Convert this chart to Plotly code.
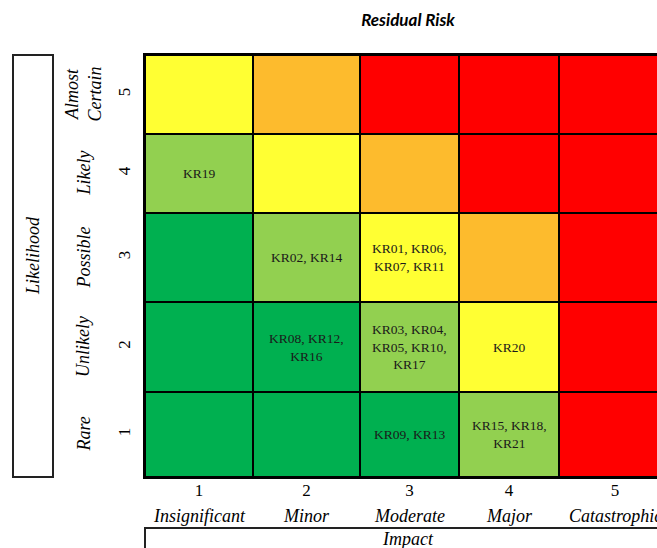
import plotly.graph_objects as go

# ---- data -------------------------------------------------------------
impact_levels = ["1", "2", "3", "4", "5"]
impact_names = ["Insignificant", "Minor", "Moderate", "Major", "Catastrophic"]
likelihood_levels = ["1", "2", "3", "4", "5"]
likelihood_names = ["Rare", "Unlikely", "Possible", "Likely", "Almost<br>Certain"]

# risk band per cell, rows from Rare (1) up to Almost Certain (5)
# 0 = low, 1 = low-medium, 2 = medium, 3 = high, 4 = extreme
risk_band = [
    [0, 0, 0, 1, 4],
    [0, 0, 1, 2, 4],
    [0, 1, 2, 3, 4],
    [1, 2, 3, 4, 4],
    [2, 3, 4, 4, 4],
]

# key risks placed in the matrix: (likelihood index, impact index, label)
key_risks = [
    (3, 0, "KR19"),
    (2, 1, "KR02, KR14"),
    (2, 2, "KR01, KR06,<br>KR07, KR11"),
    (1, 1, "KR08, KR12,<br>KR16"),
    (1, 2, "KR03, KR04,<br>KR05, KR10,<br>KR17"),
    (1, 3, "KR20"),
    (0, 2, "KR09, KR13"),
    (0, 3, "KR15, KR18,<br>KR21"),
]

# ---- layout constants ---------------------------------------------------
band_colors = ["#00B050", "#92D050", "#FFFF33", "#FDBB2D", "#FF0000"]
col_widths = [108, 107, 99, 100, 112]     # px per impact column
row_heights = [85, 90, 89, 79, 79]        # px per likelihood row (bottom up)

W, H = 657, 548
M_L, M_R, M_T, M_B = 145, 0, 55, 71
plot_w = W - M_L - M_R
plot_h = H - M_T - M_B

x_edges = [0]
for w in col_widths:
    x_edges.append(x_edges[-1] + w)
y_edges = [0]
for h in row_heights:
    y_edges.append(y_edges[-1] + h)
x_mid = [(x_edges[i] + x_edges[i + 1]) / 2 for i in range(5)]
y_mid = [(y_edges[i] + y_edges[i + 1]) / 2 for i in range(5)]

n = len(band_colors)
colorscale = []
for i, c in enumerate(band_colors):
    colorscale.append([i / n, c])
    colorscale.append([(i + 1) / n, c])

SERIF = "Liberation Serif, Times New Roman, serif"
LABEL_SIZE = 18

fig = go.Figure(
    go.Heatmap(
        z=risk_band,
        x=x_edges,
        y=y_edges,
        colorscale=colorscale,
        zmin=-0.5,
        zmax=n - 0.5,
        showscale=False,
        xgap=2,
        ygap=2,
        hoverinfo="skip",
    )
)

annotations = []
# risk ids inside cells
for r, c, label in key_risks:
    annotations.append(dict(
        x=x_mid[c], y=y_mid[r], xref="x", yref="y", text=label,
        showarrow=False, font=dict(family=SERIF, size=13.5, color="#1a1a1a"),
        align="center",
    ))

# impact names under the tick numbers
for i, name in enumerate(impact_names):
    annotations.append(dict(
        x=x_mid[i], y=-39 / plot_h, xref="x", yref="paper", text=name,
        showarrow=False, yanchor="middle",
        font=dict(family=SERIF, size=LABEL_SIZE, color="black", style="italic"),
    ))

# likelihood names, rotated
for i, name in enumerate(likelihood_names):
    annotations.append(dict(
        x=(83 - M_L) / plot_w, y=y_mid[i], xref="paper", yref="y", text=name,
        showarrow=False, textangle=-90, xanchor="center", yanchor="middle",
        font=dict(family=SERIF, size=LABEL_SIZE, color="black", style="italic"),
    ))

# boxed axis titles
annotations.append(dict(
    x=(33 - M_L) / plot_w, y=(477 - 256) / plot_h, xref="paper", yref="paper",
    text="Likelihood", showarrow=False, textangle=-90,
    xanchor="center", yanchor="middle",
    font=dict(family=SERIF, size=LABEL_SIZE, color="black", style="italic"),
))
annotations.append(dict(
    x=(408 - M_L) / plot_w, y=-(539 - 477) / plot_h, xref="paper", yref="paper",
    text="Impact", showarrow=False, xanchor="center", yanchor="middle",
    font=dict(family=SERIF, size=LABEL_SIZE, color="black", style="italic"),
))

shapes = [
    dict(type="rect", xref="paper", yref="paper",
         x0=(13 - M_L) / plot_w, x1=(53 - M_L) / plot_w,
         y0=0, y1=1, line=dict(color="#222222", width=2),
         fillcolor="rgba(0,0,0,0)"),
    dict(type="rect", xref="paper", yref="paper",
         x0=0, x1=1.1,
         y0=-(528 - 477) / plot_h, y1=-(560 - 477) / plot_h,
         line=dict(color="#222222", width=2), fillcolor="rgba(0,0,0,0)"),
]

fig.update_layout(
    width=W, height=H,
    margin=dict(l=M_L, r=M_R, t=M_T, b=M_B, pad=0),
    paper_bgcolor="white",
    plot_bgcolor="black",
    title=dict(
        text="Residual Risk", xref="container", x=408 / W, xanchor="center",
        yref="container", y=1 - 20 / H, yanchor="middle",
        font=dict(family="Lato, Open Sans, sans-serif", size=17, color="black",
                  weight="bold", style="italic"),
    ),
    xaxis=dict(
        range=[0, plot_w], tickmode="array", tickvals=x_mid, ticktext=impact_levels,
        showgrid=False, zeroline=False, showline=True, linecolor="black",
        linewidth=2, mirror=True, ticks="", ticklabelstandoff=-3,
        tickfont=dict(family=SERIF, size=17, color="black"), fixedrange=True,
    ),
    yaxis=dict(
        range=[0, plot_h], tickmode="array", tickvals=y_mid, ticktext=likelihood_levels,
        showgrid=False, zeroline=False, showline=True, linecolor="black",
        linewidth=2, mirror=False, ticks="", tickangle=-90, ticklabelstandoff=6,
        tickfont=dict(family=SERIF, size=17, color="black"), fixedrange=True,
    ),
    annotations=annotations,
    shapes=shapes,
    showlegend=False,
)

fig.write_html("out.html")
